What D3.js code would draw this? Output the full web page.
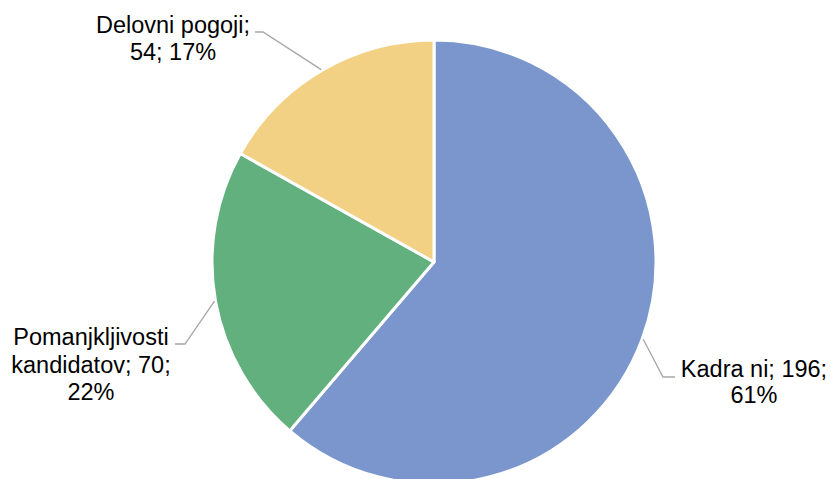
<!DOCTYPE html>
<html><head><meta charset="utf-8">
<script src="https://cdn.jsdelivr.net/npm/d3@7"></script>
<style>body{margin:0;background:#fff}svg{display:block}</style>
</head><body>
<script>
const categories = ["Kadra ni", "Pomanjkljivosti kandidatov", "Delovni pogoji"];
const values = [196, 70, 54];
const percents = ["61%", "22%", "17%"];
const colors = ["#7A96CD", "#62B07E", "#F2D185"];
// label lines (text broken as in reference)
const labelLines = [
  ["Kadra ni; 196;", "61%"],
  ["Pomanjkljivosti", "kandidatov; 70;", "22%"],
  ["Delovni pogoji;", "54; 17%"]
];

const W = 831, H = 479;
const cx = 434, cy = 262, R = 222;
const svg = d3.select("body").append("svg").attr("width", W).attr("height", H);
const g = svg.append("g").attr("transform", `translate(${cx},${cy})`);

const pie = d3.pie().sort(null).value(d => d)(values);
const arc = d3.arc().innerRadius(0).outerRadius(R);
g.selectAll("path").data(pie).join("path")
  .attr("d", arc).attr("fill", (d, i) => colors[i])
  .attr("stroke", "#fff").attr("stroke-width", 3).attr("stroke-linejoin", "round");

const lblCfg = [
  {x: 754, y: 377, ex: 675, ey: 377, hx: 663, dy: 26},
  {x: 91, y: 345, ex: 175, ey: 344, hx: 185, dy: 27.5},
  {x: 173, y: 33, ex: 255, ey: 32, hx: 263, dy: 27}
];
pie.forEach((d, i) => {
  const c = lblCfg[i];
  const a = (d.startAngle + d.endAngle) / 2;
  const px = cx + Math.sin(a) * (R + 1), py = cy - Math.cos(a) * (R + 1);
  svg.append("polyline")
    .attr("points", `${c.ex},${c.ey} ${c.hx},${c.ey} ${px},${py}`)
    .attr("fill", "none").attr("stroke", "#A6A6A6").attr("stroke-width", 1.3);
  const t = svg.append("text").attr("x", c.x).attr("y", c.y)
    .attr("text-anchor", "middle")
    .attr("font-family", "Liberation Sans, Arial, sans-serif")
    .attr("font-size", 23.5).attr("fill", "#000");
  labelLines[i].forEach((ln, j) => {
    t.append("tspan").attr("x", c.x).attr("dy", j === 0 ? 0 : c.dy).text(ln);
  });
});
</script>
</body></html>
